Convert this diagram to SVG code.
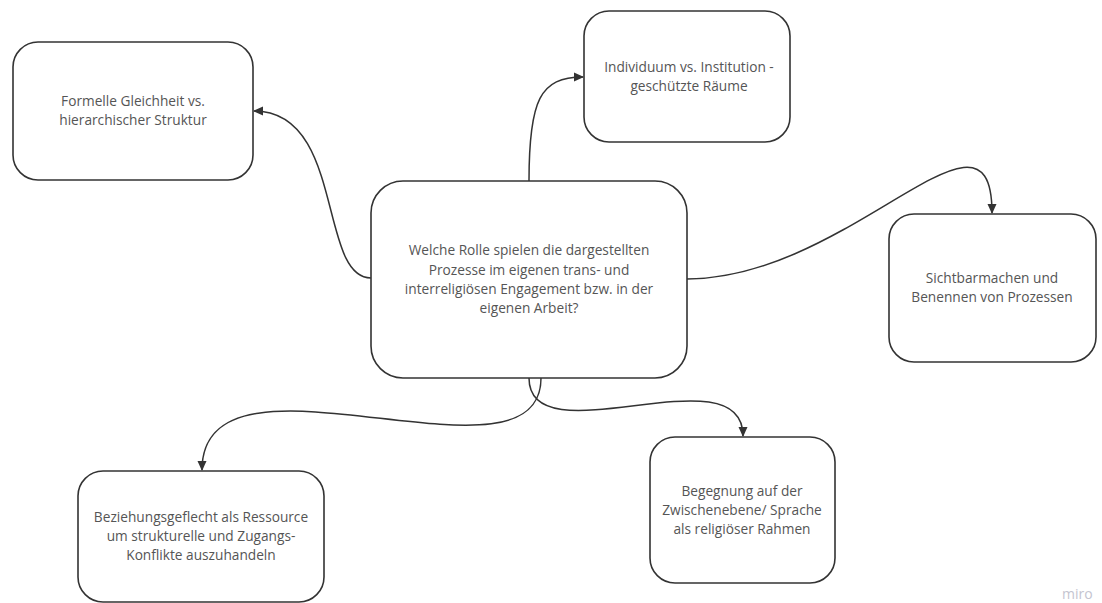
<svg xmlns="http://www.w3.org/2000/svg" width="1102" height="603" viewBox="0 0 1102 603">
<style>
.box{fill:#ffffff;stroke:#333333;stroke-width:1.6}
.lbl{font-family:"Open Sans","Noto Sans",sans-serif;font-size:13.7px;fill:#555555;text-anchor:middle}
.conn{fill:none;stroke:#333333;stroke-width:1.5}
.wm{font-family:"Open Sans","Noto Sans",sans-serif;font-size:14px;fill:#c4c4d0}
</style>
<defs>
<marker id="arr" viewBox="0 0 10 10" refX="9" refY="5" markerWidth="10" markerHeight="10" markerUnits="userSpaceOnUse" orient="auto">
<path d="M0,0.5 L10,5 L0,9.5 Z" fill="#333333"/>
</marker>
</defs>
<rect width="1102" height="603" fill="#ffffff"/>
<g id="connectors">
<path class="conn" d="M371,278 C318,278 345,111 254,111" marker-end="url(#arr)"/>
<path class="conn" d="M529,181 C529,100 540,77 583,77" marker-end="url(#arr)"/>
<path class="conn" d="M687,279 C850,279 992,80 992,213" marker-end="url(#arr)"/>
<path class="conn" d="M541,378 C541,500 202,330 202,470" marker-end="url(#arr)"/>
<path class="conn" d="M529,378 C529,460 743,350 743,436" marker-end="url(#arr)"/>
</g>
<g id="node-formelle">
<rect class="box" x="13" y="42" width="240" height="138" rx="25"/>
<text class="lbl" x="133" y="106">Formelle Gleichheit vs.</text>
<text class="lbl" x="133" y="125">hierarchischer Struktur</text>
</g>
<g id="node-individuum">
<rect class="box" x="584" y="11" width="206" height="131" rx="25"/>
<text class="lbl" x="689" y="72">Individuum vs. Institution -</text>
<text class="lbl" x="689" y="91">geschützte Räume</text>
</g>
<g id="node-center">
<rect class="box" x="371" y="181" width="316" height="197" rx="32"/>
<text class="lbl" x="529" y="255">Welche Rolle spielen die dargestellten</text>
<text class="lbl" x="529" y="274.5">Prozesse im eigenen trans- und</text>
<text class="lbl" x="529" y="294">interreligiösen Engagement bzw. in der</text>
<text class="lbl" x="529" y="313">eigenen Arbeit?</text>
</g>
<g id="node-sichtbar">
<rect class="box" x="889" y="214" width="207" height="148" rx="25"/>
<text class="lbl" x="992" y="283">Sichtbarmachen und</text>
<text class="lbl" x="992" y="302">Benennen von Prozessen</text>
</g>
<g id="node-beziehung">
<rect class="box" x="78" y="471" width="246" height="131" rx="25"/>
<text class="lbl" x="201" y="522">Beziehungsgeflecht als Ressource</text>
<text class="lbl" x="201" y="541">um strukturelle und Zugangs-</text>
<text class="lbl" x="201" y="560">Konflikte auszuhandeln</text>
</g>
<g id="node-begegnung">
<rect class="box" x="650" y="437" width="185" height="146" rx="25"/>
<text class="lbl" x="742" y="496">Begegnung auf der</text>
<text class="lbl" x="742" y="515">Zwischenebene/ Sprache</text>
<text class="lbl" x="742" y="534">als religiöser Rahmen</text>
</g>
<text class="wm" x="1062" y="599">miro</text>
</svg>
